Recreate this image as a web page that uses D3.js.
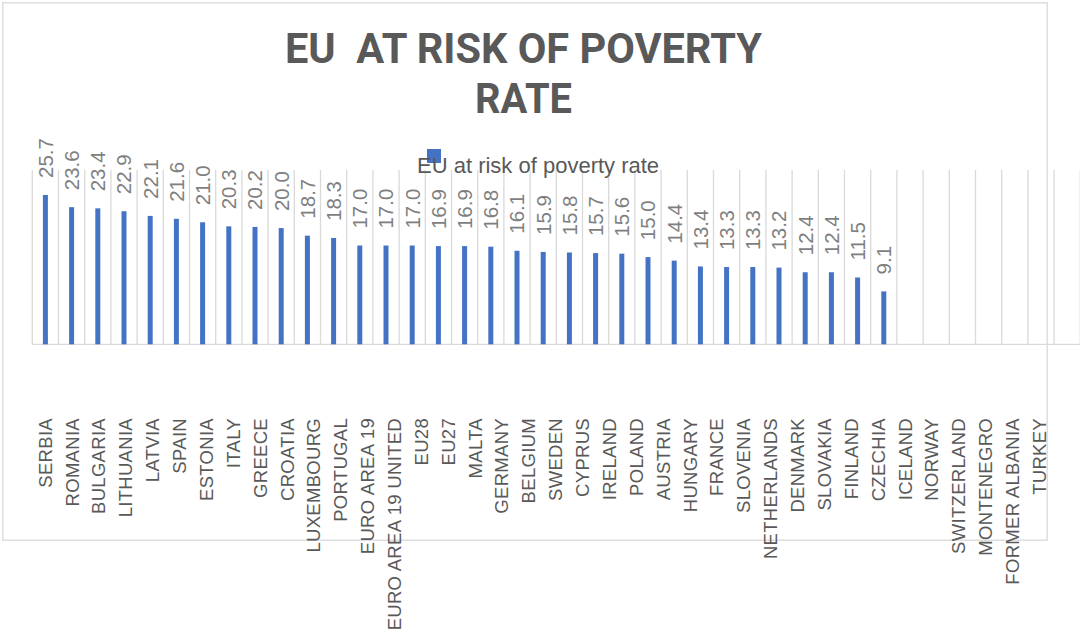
<!DOCTYPE html>
<html>
<head>
<meta charset="utf-8">
<script src="https://cdn.jsdelivr.net/npm/d3@7"></script>
<style>
  html, body { margin: 0; padding: 0; background: #ffffff; overflow: hidden; }
  svg { display: block; }
  text { font-family: "Liberation Sans", Arial, sans-serif; }
</style>
</head>
<body>
<script>
// Chart content
const titleLines = ["EU  AT RISK OF POVERTY", "RATE"];
const seriesName = "EU at risk of poverty rate";

const categories = [
  "SERBIA", "ROMANIA", "BULGARIA", "LITHUANIA", "LATVIA", "SPAIN", "ESTONIA",
  "ITALY", "GREECE", "CROATIA", "LUXEMBOURG", "PORTUGAL", "EURO AREA 19",
  "EURO AREA 19 UNITED", "EU28", "EU27", "MALTA", "GERMANY", "BELGIUM",
  "SWEDEN", "CYPRUS", "IRELAND", "POLAND", "AUSTRIA", "HUNGARY", "FRANCE",
  "SLOVENIA", "NETHERLANDS", "DENMARK", "SLOVAKIA", "FINLAND", "CZECHIA",
  "ICELAND", "NORWAY", "SWITZERLAND", "MONTENEGRO", "FORMER ALBANIA", "TURKEY"
];

const values = [
  25.7, 23.6, 23.4, 22.9, 22.1, 21.6, 21.0, 20.3, 20.2, 20.0, 18.7, 18.3,
  17.0, 17.0, 17.0, 16.9, 16.9, 16.8, 16.1, 15.9, 15.8, 15.7, 15.6, 15.0,
  14.4, 13.4, 13.3, 13.3, 13.2, 12.4, 12.4, 11.5, 9.1
];

const yDomain = [0, 30];

// Layout
const W = 1080, H = 641;
const plot = { left: 32.3, right: 1080.3, top: 170, bottom: 344.3 };
const barSlots = 40;     // column slots in the plot area
const labelSlots = 39;   // slots used by the category axis text
const barWidth = 5;
const colors = {
  bar: "#4472c4", grid: "#d9d9d9", title: "#595959",
  axisText: "#595959", valueText: "#7f7f7f", border: "#d9d9d9"
};

const svg = d3.select("body").append("svg")
  .attr("width", W).attr("height", H);

svg.append("rect").attr("width", W).attr("height", H).attr("fill", "#ffffff");

// Chart area outline
svg.append("rect")
  .attr("x", 2.8).attr("y", 2.8)
  .attr("width", 1044.4).attr("height", 537.4)
  .attr("fill", "none").attr("stroke", colors.border).attr("stroke-width", 1.3);

// Scales
const xSlot = d3.scaleBand().domain(d3.range(barSlots))
  .range([plot.left, plot.right]).paddingInner(0).paddingOuter(0);
const xLabel = d3.scaleBand().domain(d3.range(labelSlots))
  .range([31.6, 1079.5]).paddingInner(0).paddingOuter(0);
const y = d3.scaleLinear().domain(yDomain).range([plot.bottom, plot.top]);

// Vertical separators between categories
const grid = svg.append("g");
grid.selectAll("line").data(d3.range(barSlots + 1))
  .join("line")
  .attr("x1", i => plot.left + i * xSlot.step())
  .attr("x2", i => plot.left + i * xSlot.step())
  .attr("y1", y(yDomain[1])).attr("y2", y(0))
  .attr("stroke", colors.grid).attr("stroke-width", 1.3);

// Category axis line
svg.append("line")
  .attr("x1", plot.left).attr("x2", plot.right)
  .attr("y1", y(0)).attr("y2", y(0))
  .attr("stroke", colors.grid).attr("stroke-width", 1.3);

// Bars
svg.append("g").selectAll("rect").data(values)
  .join("rect")
  .attr("x", (d, i) => xSlot(i) + (xSlot.step() - barWidth) / 2)
  .attr("width", barWidth)
  .attr("y", d => y(d))
  .attr("height", d => y(0) - y(d))
  .attr("fill", colors.bar);

// Value labels above bars (rotated)
const valueFont = 20.5;
svg.append("g").selectAll("text").data(values)
  .join("text")
  .attr("transform", (d, i) => {
    const cx = xSlot(i) + xSlot.step() / 2 + 0.36 * valueFont;
    return `translate(${cx},${y(d) - 17}) rotate(-90)`;
  })
  .attr("text-anchor", "start")
  .attr("font-size", valueFont)
  .attr("fill", colors.valueText)
  .text(d => d.toFixed(1));

// Category labels (rotated)
const catFont = 18.5;
svg.append("g").selectAll("text").data(categories)
  .join("text")
  .attr("transform", (d, i) => {
    const cx = xLabel(i) + xLabel.step() / 2 + 0.36 * catFont;
    return `translate(${cx},418) rotate(-90)`;
  })
  .attr("text-anchor", "end")
  .attr("font-size", catFont)
  .attr("letter-spacing", 0.3)
  .attr("fill", colors.axisText)
  .text(d => d);

// Title
const titleWidths = [477, 97];
const titleBaselines = [63, 113];
svg.append("g").selectAll("text").data(titleLines)
  .join("text")
  .attr("x", 523.5)
  .attr("y", (d, i) => titleBaselines[i])
  .attr("text-anchor", "middle")
  .style("font-family", "Roboto, 'Liberation Sans', Arial, sans-serif")
  .attr("font-size", 43)
  .attr("font-weight", "bold")
  .attr("fill", colors.title)
  .attr("textLength", (d, i) => titleWidths[i])
  .attr("lengthAdjust", "spacingAndGlyphs")
  .style("white-space", "pre")
  .text(d => d);

// Legend
svg.append("rect")
  .attr("x", 427).attr("y", 149)
  .attr("width", 14).attr("height", 14)
  .attr("fill", colors.bar);
svg.append("text")
  .attr("x", 417).attr("y", 173)
  .attr("font-size", 22)
  .attr("fill", colors.axisText)
  .text(seriesName);
</script>
</body>
</html>
